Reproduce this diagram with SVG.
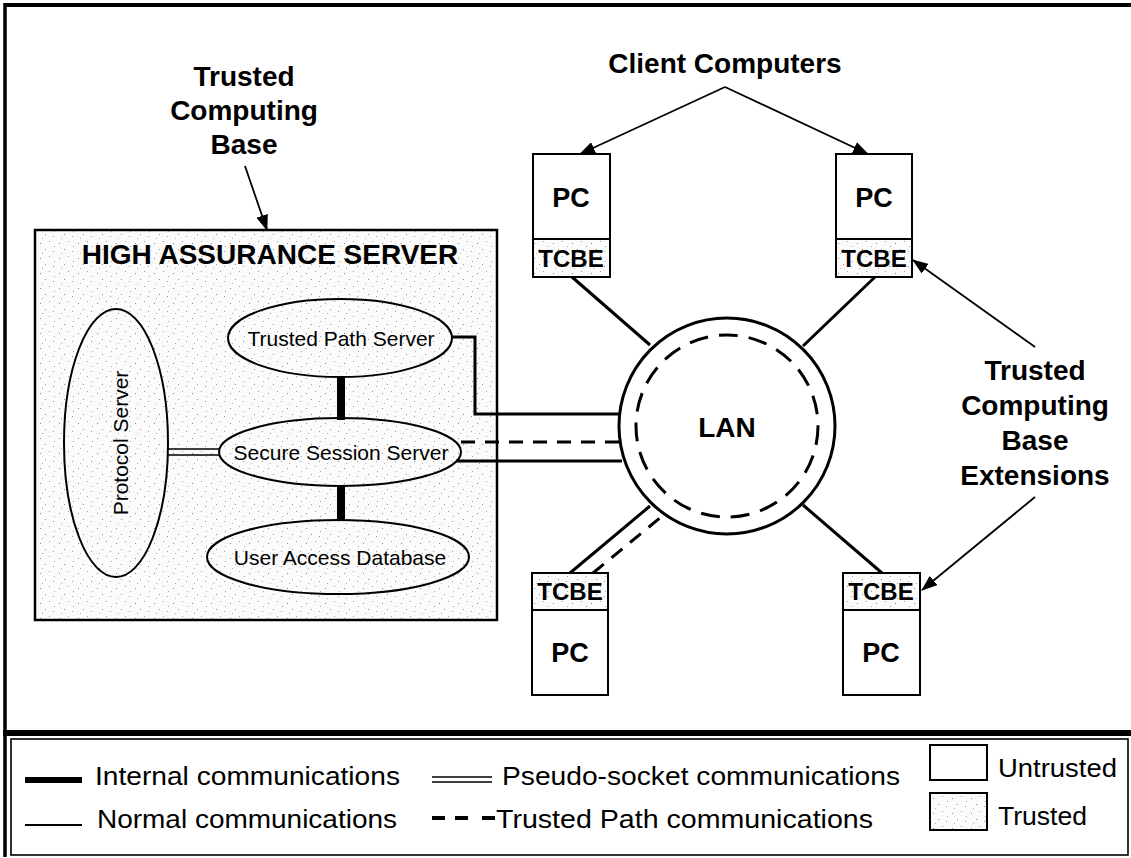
<svg xmlns="http://www.w3.org/2000/svg" width="1131" height="858" viewBox="0 0 1131 858">
<defs>
<pattern id="stip" width="19" height="15" patternUnits="userSpaceOnUse">
<rect width="19" height="15" fill="#fbfbfb"/>
<rect x="2" y="3" width="1" height="1" fill="#8a8a8a"/>
<rect x="11" y="1" width="1" height="1" fill="#a0a0a0"/>
<rect x="7" y="9" width="1" height="1" fill="#909090"/>
<rect x="15" y="11" width="1" height="1" fill="#9a9a9a"/>
<rect x="4" y="13" width="1" height="1" fill="#b0b0b0"/>
<rect x="16" y="6" width="1" height="1" fill="#a8a8a8"/>
</pattern>
<marker id="ah" viewBox="0 0 16 12" refX="15" refY="6" markerWidth="16" markerHeight="12" markerUnits="userSpaceOnUse" orient="auto">
<path d="M0,0 L16,6 L0,12 Z" fill="#000"/>
</marker>
</defs>
<style>
.lbl{font-family:"Liberation Sans",Arial,sans-serif;font-weight:bold;font-size:28px;text-anchor:middle;fill:#000}
.reg{font-family:"Liberation Sans",Arial,sans-serif;font-size:21px;text-anchor:middle;fill:#000}
.leg{font-family:"Liberation Sans",Arial,sans-serif;font-size:26px;fill:#000}
.pc{font-family:"Liberation Sans",Arial,sans-serif;font-weight:bold;font-size:27px;text-anchor:middle;fill:#000}
.tcbe{font-family:"Liberation Sans",Arial,sans-serif;font-weight:bold;font-size:24px;text-anchor:middle;fill:#000}
.box{fill:#fff;stroke:#000;stroke-width:2}
.tbox{fill:url(#stip);stroke:#000;stroke-width:2}
.ell{fill:none;stroke:#000;stroke-width:2}
.norm{stroke:#000;stroke-width:3;fill:none}
.dash{stroke:#000;stroke-width:3;fill:none;stroke-dasharray:14 10}
.thin{stroke:#000;stroke-width:1.6;fill:none}
.arrow{stroke:#000;stroke-width:1.8;fill:none;marker-end:url(#ah)}
</style>
<rect width="1131" height="858" fill="#fff"/>

<!-- frame -->
<g id="frame">
<line x1="4" y1="5" x2="1131" y2="5" stroke="#000" stroke-width="4"/>
<line x1="5" y1="3" x2="5" y2="857" stroke="#000" stroke-width="3.5"/>
<line x1="3" y1="733" x2="1131" y2="733" stroke="#000" stroke-width="6"/>
<rect x="11" y="739" width="1117" height="116" fill="none" stroke="#000" stroke-width="1.6"/>
</g>

<!-- labels -->
<g id="label-tcb">
<text class="lbl" x="244" y="86">Trusted</text>
<text class="lbl" x="244" y="120">Computing</text>
<text class="lbl" x="244" y="154">Base</text>
</g>
<g id="label-clients">
<text class="lbl" x="725" y="73">Client Computers</text>
</g>
<g id="label-tcbe">
<text class="lbl" x="1035" y="380">Trusted</text>
<text class="lbl" x="1035" y="415">Computing</text>
<text class="lbl" x="1035" y="450">Base</text>
<text class="lbl" x="1035" y="485">Extensions</text>
</g>

<!-- server -->
<g id="server">
<rect x="35" y="230" width="462" height="390" fill="url(#stip)" stroke="#000" stroke-width="2.5"/>
<text class="lbl" x="270" y="264" font-size="27">HIGH ASSURANCE SERVER</text>
</g>
<g id="protocol-server">
<ellipse class="ell" cx="116" cy="443" rx="52" ry="134"/>
<text class="reg" transform="translate(120,443) rotate(-90)" y="8" font-size="22">Protocol Server</text>
</g>
<g id="trusted-path-server">
<ellipse class="ell" cx="340" cy="338" rx="112" ry="39"/>
<text class="reg" x="341" y="346">Trusted Path Server</text>
</g>
<g id="secure-session-server">
<ellipse class="ell" cx="340" cy="452" rx="121" ry="34"/>
<text class="reg" x="341" y="460" font-size="22">Secure Session Server</text>
</g>
<g id="user-access-database">
<ellipse class="ell" cx="338" cy="557" rx="131" ry="37"/>
<text class="reg" x="340" y="565" font-size="22">User Access Database</text>
</g>

<!-- LAN -->
<g id="lan">
<circle cx="727" cy="426" r="108" fill="#fff" stroke="#000" stroke-width="3"/>
<circle cx="727" cy="426" r="91" fill="none" stroke="#000" stroke-width="3" stroke-dasharray="19 11"/>
<text class="lbl" x="727" y="437" font-size="27">LAN</text>
</g>

<!-- PCs -->
<g id="pc-top-left">
<rect class="box" x="533" y="154" width="77" height="85"/>
<rect class="tbox" x="533" y="239" width="77" height="38"/>
<text class="pc" x="571" y="207">PC</text>
<text class="tcbe" x="571" y="267">TCBE</text>
</g>
<g id="pc-top-right">
<rect class="box" x="836" y="154" width="76" height="85"/>
<rect class="tbox" x="836" y="239" width="76" height="38"/>
<text class="pc" x="874" y="207">PC</text>
<text class="tcbe" x="874" y="267">TCBE</text>
</g>
<g id="pc-bottom-left">
<rect class="tbox" x="532" y="573" width="76" height="37"/>
<rect class="box" x="532" y="610" width="76" height="85"/>
<text class="tcbe" x="570" y="600">TCBE</text>
<text class="pc" x="570" y="662">PC</text>
</g>
<g id="pc-bottom-right">
<rect class="tbox" x="843" y="573" width="77" height="37"/>
<rect class="box" x="843" y="610" width="77" height="85"/>
<text class="tcbe" x="881" y="600">TCBE</text>
<text class="pc" x="881" y="662">PC</text>
</g>

<!-- connectors -->
<g id="connectors">
<rect x="337" y="377" width="8" height="43" fill="#000"/>
<rect x="337" y="486" width="8" height="35" fill="#000"/>
<line class="thin" x1="168" y1="449" x2="219" y2="449"/>
<line class="thin" x1="168" y1="455" x2="219" y2="455"/>
<polyline class="norm" points="452,337 475,337 475,414 619,414"/>
<line class="dash" x1="461" y1="442" x2="620" y2="442"/>
<line class="norm" x1="456" y1="461" x2="622" y2="461"/>
<line class="norm" x1="572" y1="277" x2="650" y2="345"/>
<line class="norm" x1="875" y1="277" x2="803" y2="346"/>
<line class="norm" x1="570" y1="573" x2="650" y2="506"/>
<line class="dash" x1="593" y1="573" x2="661" y2="517"/>
<line class="norm" x1="803" y1="505" x2="882" y2="573"/>
<line class="arrow" x1="245" y1="166" x2="267" y2="230"/>
<line class="arrow" x1="725" y1="87" x2="580" y2="154"/>
<line class="arrow" x1="725" y1="87" x2="868" y2="154"/>
<line class="arrow" x1="1035" y1="347" x2="913" y2="260"/>
<line class="arrow" x1="1035" y1="497" x2="922" y2="590"/>
</g>

<!-- legend -->
<g id="legend">
<rect x="25" y="777" width="57" height="6" fill="#000"/>
<text class="leg" x="95" y="785" textLength="305" lengthAdjust="spacingAndGlyphs">Internal communications</text>
<line x1="25" y1="825" x2="82" y2="825" stroke="#000" stroke-width="2"/>
<text class="leg" x="97" y="828" textLength="300" lengthAdjust="spacingAndGlyphs">Normal communications</text>
<line x1="432" y1="777" x2="492" y2="777" stroke="#000" stroke-width="1.6"/>
<line x1="432" y1="782" x2="492" y2="782" stroke="#000" stroke-width="1.6"/>
<text class="leg" x="502" y="785" textLength="398" lengthAdjust="spacingAndGlyphs">Pseudo-socket communications</text>
<line x1="432" y1="818" x2="495" y2="818" stroke="#000" stroke-width="4" stroke-dasharray="13 10 13 14 13"/>
<text class="leg" x="496" y="828" textLength="377" lengthAdjust="spacingAndGlyphs">Trusted Path communications</text>
<rect x="930" y="745" width="57" height="35" fill="#fff" stroke="#000" stroke-width="2"/>
<text class="leg" x="998" y="777" textLength="119" lengthAdjust="spacingAndGlyphs">Untrusted</text>
<rect x="930" y="793" width="57" height="37" fill="url(#stip)" stroke="#000" stroke-width="2"/>
<text class="leg" x="998" y="825" textLength="89" lengthAdjust="spacingAndGlyphs">Trusted</text>
</g>
</svg>
